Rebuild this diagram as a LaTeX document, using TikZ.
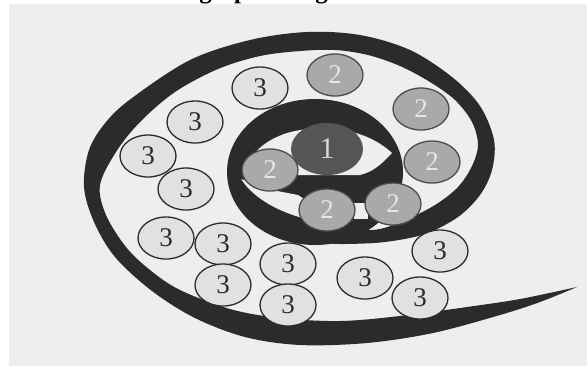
\documentclass[tikz,border=0pt]{standalone}
\usepackage{fontspec}
\setmainfont{Liberation Serif}
\usetikzlibrary{shapes.geometric}
\definecolor{bg}{HTML}{EEEEEE}
\definecolor{ink}{HTML}{2B2B2B}
\definecolor{cthree}{HTML}{E1E1E1}
\definecolor{ctwo}{HTML}{A9A9A9}
\definecolor{cone}{HTML}{555555}
\definecolor{lighttext}{HTML}{E6E6E6}
\tikzset{
  dot/.style={ellipse, inner sep=0pt, minimum width=56pt, minimum height=42pt, line width=1.3pt},
  three/.style={dot, draw=ink, fill=cthree, text=ink, font=\fontsize{27}{27}\selectfont},
  two/.style={dot, draw=ink!85, fill=ctwo, text=lighttext, font=\fontsize{27}{27}\selectfont},
  one/.style={dot, minimum width=72pt, minimum height=52pt, fill=cone, text=black!15, font=\fontsize{30}{30}\selectfont},
  spiral/.style={fill=ink},
  hole/.style={fill=bg},
}
\begin{document}
\begin{tikzpicture}[x=1pt,y=-1pt]
\fill[white] (0,0) rectangle (588,368);
\useasboundingbox (0,0) rectangle (588,368);
\fill[bg] (9,4) rectangle (587,366);
\node[anchor=base west, inner sep=0pt, font=\bfseries\fontsize{25}{25}\selectfont] (title) at (120,-1.5) {Ranking-up Paving};
% spiral band
\fill[spiral] plot[smooth, tension=0.55] coordinates {(577,287) (540,302) (500,315) (433,333) (367,343) (300,345) (245,337) (195,318) (152,291) (115,257) (94,222) (84,187) (89,150) (106,122) (132,98) (190,60) (250,40) (307,32) (360,35) (410,50) (452,77) (480,106) (494,140) (492,170) (480,195) (458,217) (425,234) (385,242) (345,244) (320,243)}
 -- plot[smooth, tension=0.55] coordinates {(320,226) (372,230) (403,221) (435,205) (458,187) (472,166) (478,145) (472,122) (455,100) (430,82) (400,66) (368,55) (335,50) (300,51) (260,56) (218,69) (175,92) (140,122) (116,152) (100,185) (106,215) (126,247) (150,270) (180,290) (230,309) (280,318) (340,321) (400,316) (467,307) (520,299) (577,287)} -- cycle;
% inner ring
\fill[spiral] (315,172) ellipse [x radius=88, y radius=73];
\fill[hole] (244,178) .. controls (244,160) and (262,138) .. (295,131) .. controls (325,125) and (365,128) .. (392,153) .. controls (380,166) and (372,172) .. (360,175) -- (300,175) -- cycle;
\fill[hole] (241,179) .. controls (255,200) and (280,212) .. (306,219) -- (312,204) -- (298,195) -- (272,190) -- cycle;
\fill[hole] (354,203) rectangle (368,219);
% nodes
\node[one] (c1) at (327,149) {1};
\node[two] (b1) at (335,75) {2};
\node[two] (b2) at (421,109) {2};
\node[two] (b3) at (432,162) {2};
\node[two] (b4) at (393,204) {2};
\node[two] (b5) at (327,210) {2};
\node[two] (b6) at (270,170) {2};
\node[three] (a1) at (260,88) {3};
\node[three] (a2) at (195,122) {3};
\node[three] (a3) at (148,156) {3};
\node[three] (a4) at (186,189) {3};
\node[three] (a5) at (166,238) {3};
\node[three] (a6) at (223,244) {3};
\node[three] (a7) at (223,285) {3};
\node[three] (a8) at (288,264) {3};
\node[three] (a9) at (288,305) {3};
\node[three] (a10) at (440,251) {3};
\node[three] (a11) at (365,278) {3};
\node[three] (a12) at (420,298) {3};
\end{tikzpicture}
\end{document}
